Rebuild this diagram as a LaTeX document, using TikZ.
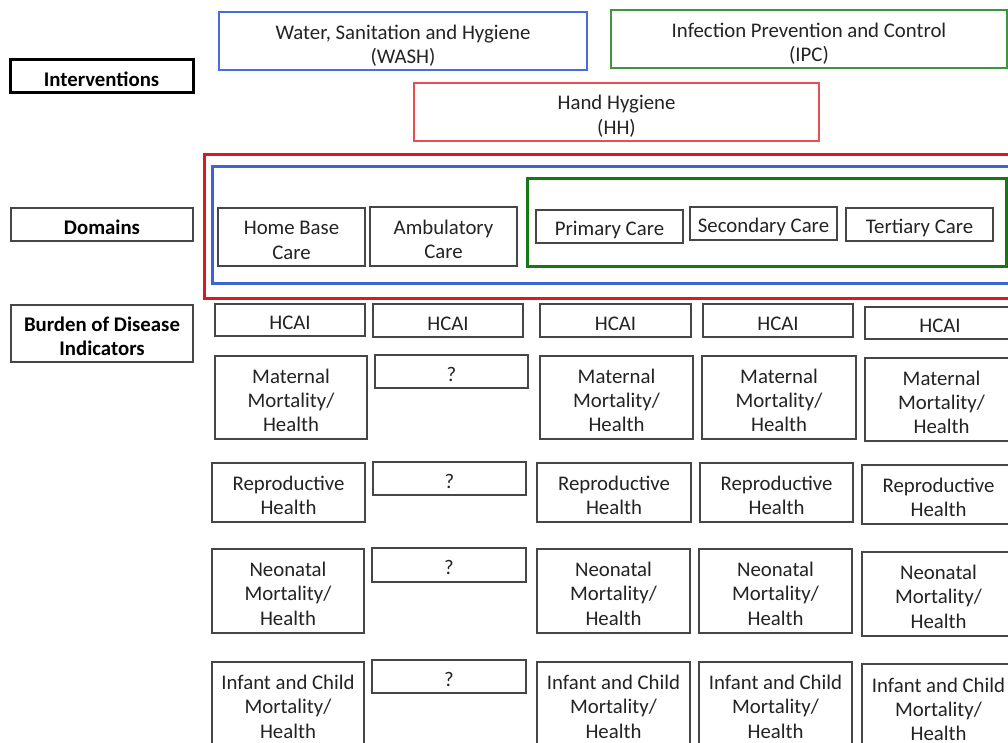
\documentclass[tikz,border=0pt]{standalone}
\usepackage{fontspec}
\setmainfont{Carlito}
\definecolor{boxgray}{RGB}{70,70,70}
\definecolor{txtgray}{RGB}{35,35,35}
\definecolor{washblue}{RGB}{70,110,225}
\definecolor{ipcgreen}{RGB}{60,150,60}
\definecolor{hhred}{RGB}{230,80,85}
\definecolor{frred}{RGB}{220,25,30}
\definecolor{frblue}{RGB}{60,100,215}
\definecolor{frgreen}{RGB}{20,120,20}
\newlength\tstrutlen
\setlength\tstrutlen{20pt}
\tikzset{
  tstrut/.code={\global\tstrutlen=#1\relax},
  bx/.style={draw=boxgray, line width=1.4pt, align=center, inner sep=0pt, text=txtgray,
    font=\fontsize{20.8}{24.3}\selectfont, tstrut=20pt},
  lbl/.style={bx, font=\bfseries\fontsize{20.8}{24.3}\selectfont, text=black},
  lblthick/.style={lbl, draw=black, line width=3pt},
  washbox/.style={bx, draw=washblue, line width=2pt, tstrut=24pt},
  ipcbox/.style={bx, draw=ipcgreen, line width=1.6pt, tstrut=24pt},
  hhbox/.style={bx, draw=hhred, line width=1.6pt, tstrut=23pt},
  frame/.style={draw=#1, inner sep=0pt, line width=3pt}
}
% style, name, x1, y1, x2, y2, text
\newcommand\rbox[7]{\node[#1, minimum width={((#5)-(#3))*1pt}, minimum height={((#6)-(#4))*1pt}]
  (#2) at ({((#3)+(#5))/2},{((#4)+(#6))/2}) {\rule{0pt}{\tstrutlen}#7};}
\newcommand\frmbox[6]{\node[#1, minimum width={((#5)-(#3))*1pt}, minimum height={((#6)-(#4))*1pt}]
  (#2) at ({((#3)+(#5))/2},{((#4)+(#6))/2}) {};}
\begin{document}
\begin{tikzpicture}[x=1pt,y=-1pt]
\useasboundingbox (0,0) rectangle (1008,743);
\clip (0,0) rectangle (1008,743);
\fill[white] (0,0) rectangle (1008,743);
% left labels
\rbox{lblthick}{lbInt}{10}{60}{193}{93}{Interventions}
\rbox{lbl}{lbDom}{11}{208}{193}{241}{Domains}
\rbox{lbl}{lbBur}{11}{305}{193}{362}{Burden of Disease\\Indicators}
% interventions
\rbox{washbox}{wash}{219}{12}{587}{70}{Water, Sanitation and Hygiene\\(WASH)}
\rbox{ipcbox}{ipc}{611}{10}{1007}{68}{Infection Prevention and Control\\(IPC)}
\rbox{hhbox}{hh}{414}{83}{819}{141}{Hand Hygiene\\(HH)}
% domain frames
\frmbox{frame=frred}{frRed}{204}{155}{1030}{298}
\frmbox{frame=frblue}{frBlue}{212}{167}{1020}{283}
\frmbox{frame=frgreen}{frGreen}{527}{179}{1006}{266}
% domains
\rbox{bx}{home}{218}{208}{365}{266}{Home Base\\Care}
\rbox{bx}{amb}{370}{207}{517}{266}{Ambulatory\\Care}
\rbox{bx,tstrut=22pt}{prim}{536}{210}{683}{243}{Primary Care}
\rbox{bx,tstrut=22pt}{sec}{690}{207}{837}{240}{Secondary Care}
\rbox{bx,tstrut=22pt}{tert}{846}{208}{993}{241}{Tertiary Care}
% HCAI row
\rbox{bx}{h1}{215}{304}{365}{336}{HCAI}
\rbox{bx}{h2}{373}{304}{523}{337}{HCAI}
\rbox{bx}{h3}{540}{304}{691}{337}{HCAI}
\rbox{bx}{h4}{703}{304}{853}{337}{HCAI}
\rbox{bx}{h5}{865}{307}{1015}{339}{HCAI}
% maternal row
\rbox{bx}{m1}{215}{356}{367}{439}{Maternal\\Mortality/\\Health}
\rbox{bx}{m2}{375}{355}{528}{388}{?}
\rbox{bx}{m3}{540}{356}{693}{439}{Maternal\\Mortality/\\Health}
\rbox{bx}{m4}{702}{356}{856}{439}{Maternal\\Mortality/\\Health}
\rbox{bx}{m5}{865}{358}{1018}{441}{Maternal\\Mortality/\\Health}
% reproductive row
\rbox{bx}{r1}{212}{463}{365}{522}{Reproductive\\Health}
\rbox{bx}{r2}{373}{462}{526}{495}{?}
\rbox{bx}{r3}{537}{463}{691}{522}{Reproductive\\Health}
\rbox{bx}{r4}{700}{463}{853}{522}{Reproductive\\Health}
\rbox{bx}{r5}{862}{465}{1015}{524}{Reproductive\\Health}
% neonatal row
\rbox{bx}{n1}{212}{549}{364}{633}{Neonatal\\Mortality/\\Health}
\rbox{bx}{n2}{372}{548}{526}{582}{?}
\rbox{bx}{n3}{537}{549}{690}{633}{Neonatal\\Mortality/\\Health}
\rbox{bx}{n4}{699}{549}{852}{633}{Neonatal\\Mortality/\\Health}
\rbox{bx}{n5}{862}{552}{1015}{636}{Neonatal\\Mortality/\\Health}
% infant row
\rbox{bx}{i1}{212}{662}{364}{746}{Infant and Child\\Mortality/\\Health}
\rbox{bx}{i2}{372}{660}{526}{693}{?}
\rbox{bx}{i3}{537}{662}{690}{746}{Infant and Child\\Mortality/\\Health}
\rbox{bx}{i4}{699}{662}{852}{746}{Infant and Child\\Mortality/\\Health}
\rbox{bx}{i5}{862}{664}{1015}{749}{Infant and Child\\Mortality/\\Health}
\end{tikzpicture}
\end{document}
